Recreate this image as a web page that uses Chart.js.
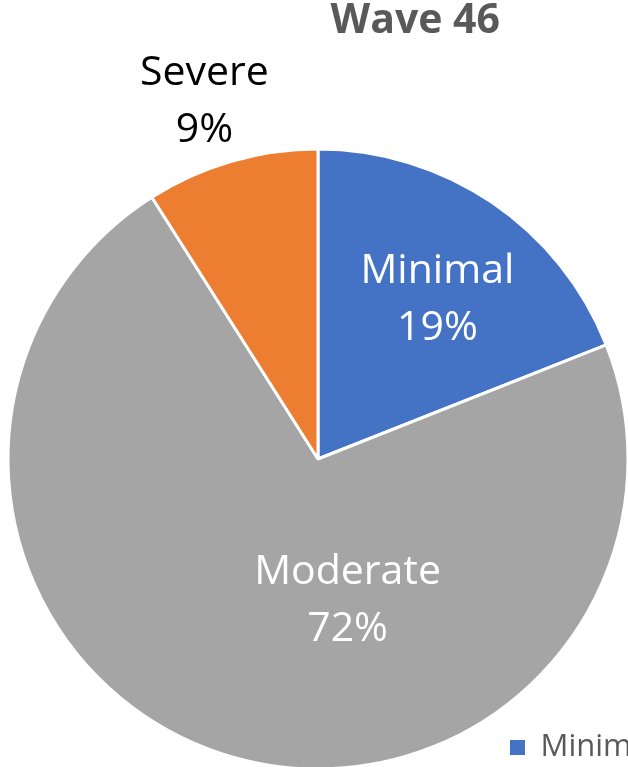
<!DOCTYPE html>
<html>
<head>
<meta charset="utf-8">
<script src="https://cdn.jsdelivr.net/npm/chart.js@4.4.1/dist/chart.umd.min.js"></script>
<style>
  html, body { margin: 0; padding: 0; background: #fff; overflow: hidden; }
  #wrap { position: absolute; left: 0; top: 0; width: 650px; height: 855px; }
</style>
</head>
<body>
<div id="wrap">
  <canvas id="pieCanvas" width="650" height="855"></canvas>
</div>
<script>
// chart data
const chartTitle = 'Wave 46';
const categories = ['Minimal', 'Moderate', 'Severe'];
const shares = [19, 72, 9];
const sliceColors = ['#4472C4', '#A5A5A5', '#ED7D31'];

const FONT = "'Open Sans', 'Noto Sans', sans-serif";

/**
 * Excel style data labels: category on one line, percent under it.
 * place[i] = [fraction of radius, angle shift in degrees from the slice middle]
 */
const sliceLabels = {
  id: 'sliceLabels',
  afterDatasetsDraw(chart, args, opts) {
    const { ctx } = chart;
    const meta = chart.getDatasetMeta(0);
    ctx.save();
    ctx.font = `${opts.size}px ${FONT}`;
    ctx.textAlign = 'center';
    ctx.textBaseline = 'alphabetic';
    meta.data.forEach((arc, i) => {
      const { x, y, startAngle, endAngle, outerRadius } = arc.getProps(
        ['x', 'y', 'startAngle', 'endAngle', 'outerRadius'],
        true
      );
      const [frac, shift] = opts.place[i] || [0.6, 0];
      const mid = (startAngle + endAngle) / 2 + (shift * Math.PI) / 180;
      const cx = x + Math.cos(mid) * outerRadius * frac;
      const cy = y + Math.sin(mid) * outerRadius * frac;
      const capHalf = opts.size * 0.357;
      ctx.fillStyle = opts.colors[i];
      ctx.fillText(chart.data.labels[i], cx, cy - opts.gap / 2 + capHalf);
      ctx.fillText(`${chart.data.datasets[0].data[i]}%`, cx, cy + opts.gap / 2 + capHalf);
    });
    ctx.restore();
  },
};

const ctx = document.getElementById('pieCanvas').getContext('2d');

new Chart(ctx, {
  type: 'pie',
  data: {
    labels: categories,
    datasets: [
      {
        data: shares,
        backgroundColor: sliceColors,
        borderColor: '#ffffff',
        borderWidth: 3,
        radius: 310,
      },
    ],
  },
  plugins: [sliceLabels],
  options: {
    responsive: false,
    animation: false,
    layout: { padding: { left: 136, right: 0, top: 0, bottom: 0 } },
    plugins: {
      title: {
        display: true,
        text: chartTitle,
        align: 'end',
        fullSize: false,
        color: '#595959',
        font: { family: FONT, size: 41, weight: 'bold', lineHeight: 1 },
        padding: { top: 1, bottom: 21 },
      },
      legend: {
        display: true,
        position: 'right',
        align: 'end',
        maxWidth: 150,
        labels: {
          color: '#595959',
          font: { family: FONT, size: 31 },
          boxWidth: 15,
          boxHeight: 15,
          padding: 10,
          // no white slice border on the legend squares
          generateLabels(chart) {
            return Chart.overrides.pie.plugins.legend.labels
              .generateLabels(chart)
              .map(item => ({ ...item, lineWidth: 0 }));
          },
        },
      },
      tooltip: { enabled: false },
      sliceLabels: {
        size: 41,
        gap: 57,
        colors: ['#ffffff', '#ffffff', '#000000'],
        place: [
          [0.649, 2.2],
          [0.459, -30],
          [1.219, -1.3],
        ],
      },
    },
  },
});
</script>
</body>
</html>
